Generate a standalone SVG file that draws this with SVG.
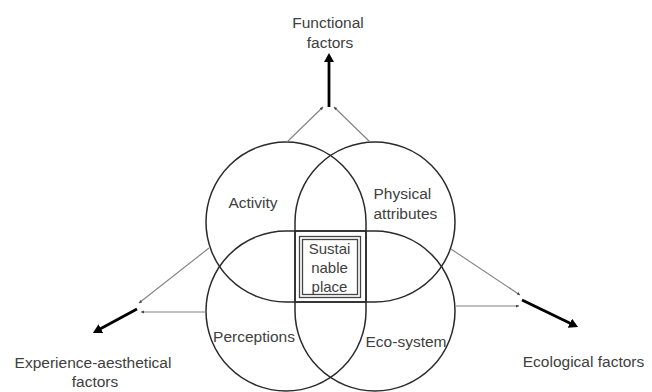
<svg xmlns="http://www.w3.org/2000/svg" width="652" height="392" viewBox="0 0 652 392">
<style>
.set{fill:none;stroke:#2a2a2a;stroke-width:1.5}
.thin{fill:none;stroke:#808080;stroke-width:1.1}
.thick{fill:none;stroke:#000;stroke-width:2.8}
.lbl{font-family:"Liberation Sans",Arial,sans-serif;font-size:15.5px;fill:#404040}
.box{fill:none;stroke:#444;stroke-width:1.3}
</style>
<defs>
<marker id="big" markerUnits="userSpaceOnUse" markerWidth="12" markerHeight="12" refX="2" refY="5" orient="auto">
<path d="M0,0 L9,5 L0,10 Z" fill="#000"/>
</marker>
<marker id="small" markerUnits="userSpaceOnUse" markerWidth="5" markerHeight="5" refX="3" refY="1.5" orient="auto">
<path d="M0,0 L3,1.5 L0,3 Z" fill="#444"/>
</marker>
</defs>
<rect width="652" height="392" fill="#fff"/>
<g id="activity">
<path class="set" d="M206,222 A80,80 0 0 1 366,222 L366,302 L286,302 A80,80 0 0 1 206,222 Z"/>
<text class="lbl" x="253" y="207.5" text-anchor="middle">Activity</text>
</g>
<g id="physical">
<path class="set" d="M295,222 A80,80 0 0 1 455,222 A80,80 0 0 1 375,302 L295,302 Z"/>
<text class="lbl" x="373.5" y="198.5">Physical</text>
<text class="lbl" x="373.5" y="218.5">attributes</text>
</g>
<g id="perceptions">
<path class="set" d="M286,231 L366,231 L366,311 A80,80 0 0 1 206,311 A80,80 0 0 1 286,231 Z"/>
<text class="lbl" x="254" y="341.5" text-anchor="middle">Perceptions</text>
</g>
<g id="ecosystem">
<path class="set" d="M295,231 L375,231 A80,80 0 0 1 455,311 A80,80 0 0 1 295,311 Z"/>
<text class="lbl" x="406" y="347" text-anchor="middle">Eco-system</text>
</g>
<g id="sustainable">
<rect x="299.5" y="236.5" width="61" height="61" fill="#fff" class="box"/>
<rect x="302.5" y="239.5" width="55" height="55" class="box"/>
<text class="lbl" x="329.5" y="253.5" text-anchor="middle" style="font-size:15px">Sustai</text>
<text class="lbl" x="329.5" y="273" text-anchor="middle" style="font-size:15px">nable</text>
<text class="lbl" x="329.5" y="291.5" text-anchor="middle" style="font-size:15px">place</text>
</g>
<g id="functional">
<text class="lbl" x="328" y="27.5" text-anchor="middle">Functional</text>
<text class="lbl" x="330" y="47.5" text-anchor="middle">factors</text>
</g>
<g id="experience">
<text class="lbl" x="93" y="367.5" text-anchor="middle">Experience-aesthetical</text>
<text class="lbl" x="95" y="387" text-anchor="middle">factors</text>
</g>
<g id="ecological">
<text class="lbl" x="583.5" y="366.5" text-anchor="middle">Ecological factors</text>
</g>
<g id="connectors">
<line class="thin" x1="287" y1="142" x2="323" y2="107" marker-end="url(#small)"/>
<line class="thin" x1="370" y1="142" x2="334" y2="107" marker-end="url(#small)"/>
<line class="thick" x1="329" y1="107" x2="329" y2="60" marker-end="url(#big)"/>
<line class="thin" x1="209" y1="248" x2="139" y2="303" marker-end="url(#small)"/>
<line class="thin" x1="206" y1="312" x2="141" y2="312" marker-end="url(#small)"/>
<line class="thick" x1="137" y1="309" x2="99.1" y2="329.6" marker-end="url(#big)"/>
<line class="thin" x1="451" y1="249" x2="520" y2="295" marker-end="url(#small)"/>
<line class="thin" x1="456" y1="306" x2="519" y2="306" marker-end="url(#small)"/>
<line class="thick" x1="522" y1="300" x2="571.7" y2="324" marker-end="url(#big)"/>
</g>
</svg>
